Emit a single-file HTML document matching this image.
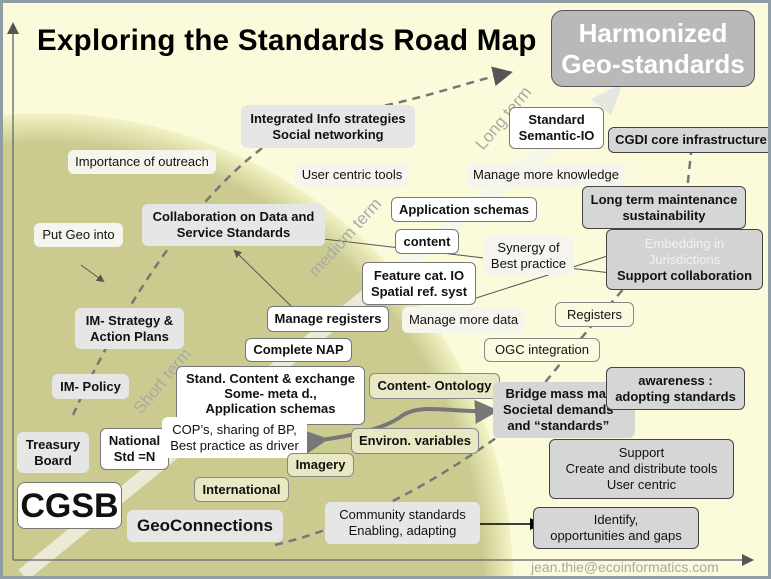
<!DOCTYPE html>
<html><head><meta charset="utf-8"><style>
*{margin:0;padding:0;box-sizing:border-box}
body{width:771px;height:579px;overflow:hidden;font-family:"Liberation Sans",Arial,sans-serif}
#f{position:relative;width:771px;height:579px;border:3px solid #8e9ea4;overflow:hidden;
background:radial-gradient(circle 470px at 40px 580px,#cbcb90 0,#cbcb90 440px,#f3f3c6 470px,#fbfbdc 100%)}
.b{position:absolute;display:flex;align-items:center;justify-content:center;text-align:center;font-size:13px;line-height:16px;border-radius:6px;color:#111}
.w{background:#fff;border:1px solid #777}
.l{background:#e6e6e6}
.g{background:#d6d6d6;border:1.5px solid #444}
.p{background:#f5f5ee}
.o{background:#e8e8c4;border:1px solid #888}
.bd{font-weight:bold}
svg{position:absolute;left:0;top:0}
</style></head><body><div id="f">
<svg width="771" height="579" viewBox="0 0 771 579">
<defs>
<marker id="a" markerWidth="8" markerHeight="8" refX="6" refY="4" orient="auto"><path d="M0,0 L8,4 L0,8z" fill="#555"/></marker>
<marker id="k" markerWidth="8" markerHeight="8" refX="6" refY="4" orient="auto"><path d="M0,0 L8,4 L0,8z" fill="#000"/></marker>
<marker id="gg" markerWidth="6" markerHeight="6" refX="4" refY="3" orient="auto"><path d="M0,0 L6,3 L0,6z" fill="#777"/></marker>
</defs>
<path d="M20,572 L600,100" stroke="#f4f4ee" stroke-opacity="0.75" stroke-width="14" fill="none"/>
<path d="M588,96 L620,80 L608,112z" fill="#e6e6e0"/>
<path d="M70,412 C120,300 230,120 340,110 C410,100 460,80 505,70" stroke="#777" stroke-width="2.5" stroke-dasharray="8,6" fill="none" marker-end="url(#a)"/>
<path d="M272,542 C360,520 430,480 500,430 C560,360 610,290 680,225 L688,150" stroke="#777" stroke-width="2.5" stroke-dasharray="8,6" fill="none"/>
<path d="M10,557 L10,22" stroke="#777" stroke-width="1.5" fill="none" marker-end="url(#a)"/>
<path d="M10,557 L748,557" stroke="#777" stroke-width="1.5" fill="none" marker-end="url(#a)"/>
<path d="M78,262 L100,278" stroke="#555" fill="none" marker-end="url(#a)"/>
<path d="M290,305 L232,248" stroke="#555" fill="none" marker-end="url(#a)"/>
<path d="M608,270 L312,235" stroke="#555" fill="none" marker-end="url(#a)"/>
<path d="M470,296 L645,240" stroke="#555" fill="none" marker-end="url(#a)"/>
<path d="M466,521 L536,521" stroke="#000" stroke-width="1.5" fill="none" marker-end="url(#k)"/>
<path d="M318,437 C370,430 390,420 400,412 C420,400 450,410 488,408" stroke="#777" stroke-width="4" fill="none" marker-end="url(#gg)" marker-start="url(#gg)"/>
<text x="0" y="0" transform="translate(138,412) rotate(-50)" font-size="17" fill="#aaa" font-family="Liberation Sans">Short term</text>
<text x="0" y="0" transform="translate(313,275) rotate(-48)" font-size="17" fill="#aaa" font-family="Liberation Sans">medium term</text>
<text x="0" y="0" transform="translate(480,148) rotate(-50)" font-size="17" fill="#aaa" font-family="Liberation Sans">Long term</text>
</svg>
<div style="position:absolute;left:34px;top:21px;font-size:29.5px;font-weight:bold;color:#000;letter-spacing:0.3px">Exploring the Standards Road Map</div>
<div class="b bd" style="left:548px;top:7px;width:204px;height:77px;background:#b9b9b9;border:1.5px solid #555;border-radius:12px;color:#fff;font-size:26px;line-height:31px">Harmonized<br>Geo-standards</div>
<div class="b l bd" style="left:238px;top:102px;width:174px;height:43px">Integrated Info strategies<br>Social networking</div>
<div class="b w bd" style="left:506px;top:104px;width:95px;height:42px">Standard<br>Semantic-IO</div>
<div class="b g bd" style="left:605px;top:124px;width:166px;height:26px">CGDI core infrastructure</div>
<div class="b p" style="left:65px;top:147px;width:148px;height:24px">Importance of outreach</div>
<div class="b p" style="left:292px;top:160px;width:114px;height:24px">User centric tools</div>
<div class="b p" style="left:464px;top:160px;width:158px;height:24px">Manage more knowledge</div>
<div class="b g bd" style="left:579px;top:183px;width:164px;height:43px">Long term maintenance<br>sustainability</div>
<div class="b l bd" style="left:139px;top:201px;width:183px;height:42px">Collaboration on Data and<br>Service Standards</div>
<div class="b p" style="left:31px;top:220px;width:89px;height:24px">Put Geo into</div>
<div class="b w bd" style="left:388px;top:194px;width:146px;height:25px">Application schemas</div>
<div class="b w bd" style="left:392px;top:226px;width:64px;height:25px">content</div>
<div class="b p" style="left:480px;top:233px;width:91px;height:39px">Synergy of<br>Best practice</div>
<div class="b g" style="left:603px;top:226px;width:157px;height:61px;flex-direction:column;background:#d3d3d3"><span style="color:#f2f2f2">Embedding in<br>Jurisdictions</span><b>Support collaboration</b></div>
<div class="b w bd" style="left:359px;top:259px;width:114px;height:43px">Feature cat. IO<br>Spatial ref. syst</div>
<div class="b w bd" style="left:264px;top:303px;width:122px;height:26px">Manage registers</div>
<div class="b p" style="left:399px;top:304px;width:123px;height:26px">Manage more data</div>
<div class="b o" style="left:552px;top:299px;width:79px;height:25px;background:#fafae0">Registers</div>
<div class="b l bd" style="left:72px;top:305px;width:109px;height:41px">IM- Strategy &amp;<br>Action Plans</div>
<div class="b w bd" style="left:242px;top:335px;width:107px;height:24px">Complete NAP</div>
<div class="b o" style="left:481px;top:335px;width:116px;height:24px;background:#fafae0">OGC integration</div>
<div class="b l bd" style="left:49px;top:371px;width:77px;height:25px">IM- Policy</div>
<div class="b w bd" style="left:173px;top:363px;width:189px;height:59px;line-height:15px;align-items:flex-start;padding-top:4px">Stand. Content &amp; exchange<br>Some- meta d.,<br>Application schemas</div>
<div class="b o bd" style="left:366px;top:370px;width:131px;height:26px">Content- Ontology</div>
<div class="b bd" style="left:490px;top:379px;width:142px;height:56px;background:#d6d6d6;justify-content:flex-start;padding-left:10px;white-space:nowrap;overflow:hidden">Bridge mass mar<br>Societal demands<br>and “standards”</div>
<div class="b g bd" style="left:603px;top:364px;width:139px;height:43px">awareness :<br>adopting standards</div>
<div class="b l bd" style="left:14px;top:429px;width:72px;height:41px">Treasury<br>Board</div>
<div class="b w bd" style="left:97px;top:425px;width:69px;height:42px">National<br>Std =N</div>
<div class="b" style="left:159px;top:414px;width:145px;height:41px;background:#fff">COP’s, sharing of BP,<br>Best practice as driver</div>
<div class="b o bd" style="left:348px;top:425px;width:128px;height:26px">Environ. variables</div>
<div class="b o bd" style="left:284px;top:450px;width:67px;height:24px">Imagery</div>
<div class="b o bd" style="left:191px;top:474px;width:95px;height:25px">International</div>
<div class="b g" style="left:546px;top:436px;width:185px;height:60px">Support<br>Create and distribute tools<br>User centric</div>
<div class="b w bd" style="left:14px;top:479px;width:105px;height:47px;font-size:34px;border-radius:8px">CGSB</div>
<div class="b l bd" style="left:124px;top:507px;width:156px;height:32px;font-size:17px">GeoConnections</div>
<div class="b l" style="left:322px;top:499px;width:155px;height:42px">Community standards<br>Enabling, adapting</div>
<div class="b g" style="left:530px;top:504px;width:166px;height:42px">Identify,<br>opportunities and gaps</div>
<div style="position:absolute;left:528px;top:556px;font-size:14px;color:#a8a8a8">jean.thie@ecoinformatics.com</div>
</div></body></html>
